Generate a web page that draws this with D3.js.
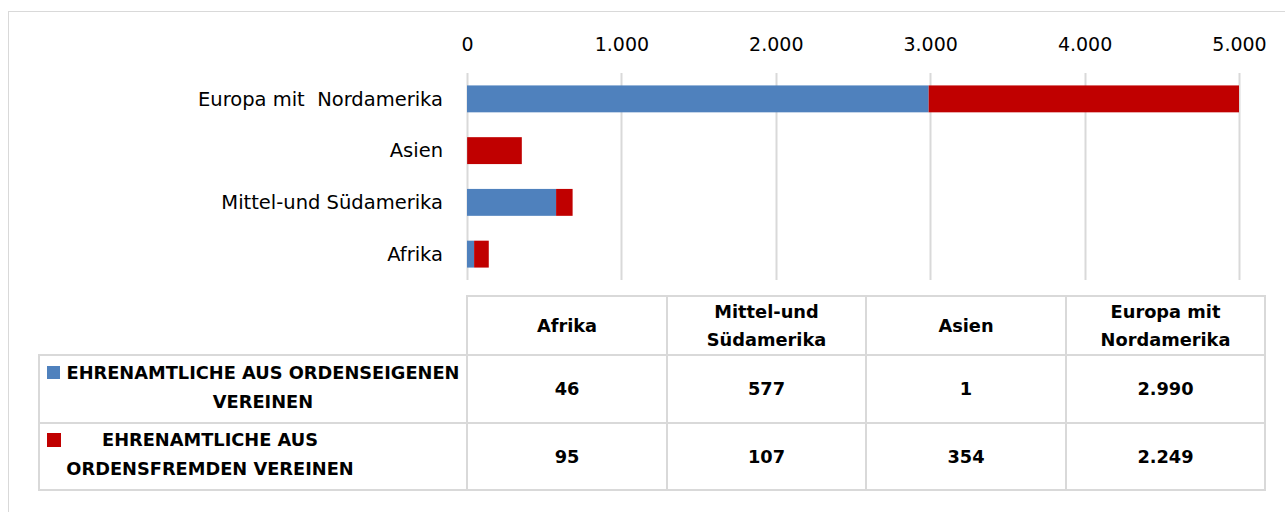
<!DOCTYPE html>
<html>
<head>
<meta charset="utf-8">
<script src="https://cdn.jsdelivr.net/npm/d3@7"></script>
<style>
  body { margin: 0; background: #fff; }
  svg text { font-family: "DejaVu Sans", sans-serif; fill: #000; }
</style>
</head>
<body>
<div id="chart_div"></div>
<script>
// data
var regions = ['Afrika', 'Mittel-und Südamerika', 'Asien', 'Europa mit  Nordamerika'];
var tableHeads = [['Afrika'], ['Mittel-und', 'Südamerika'], ['Asien'], ['Europa mit', 'Nordamerika']];
var ordenseigen = [46, 577, 1, 2990];
var ordensfremd = [95, 107, 354, 2249];
var xTicks = [0, 1000, 2000, 3000, 4000, 5000];
var seriesNames = [['EHRENAMTLICHE AUS ORDENSEIGENEN', 'VEREINEN'], ['EHRENAMTLICHE AUS', 'ORDENSFREMDEN VEREINEN']];
var seriesColors = ['#4f81bd', '#c00000'];

var svg_width = 1285,
  svg_height = 512;

var svg = d3.select('#chart_div')
  .append('svg')
  .attr('width', svg_width)
  .attr('height', svg_height);

// chart border (runs off the right and bottom)
svg.append('rect')
  .attr('x', 8.5)
  .attr('y', 11.5)
  .attr('width', 1290)
  .attr('height', 520)
  .attr('fill', 'none')
  .attr('stroke', '#d9d9d9');

var fmt = d3.format(',.0f');
var deFmt = function (v) { return fmt(v).replace(/,/g, '.'); };

var x = d3.scaleLinear()
  .domain([0, 5000])
  .range([467, 1239])
  .clamp(true);

var y = d3.scaleBand()
  .domain(regions.slice().reverse())
  .range([73, 280])
  .paddingInner(0.48)
  .paddingOuter(0.24);

// gridlines
svg.append('g').selectAll('line')
  .data(xTicks)
  .enter().append('line')
  .attr('x1', function (d) { return Math.round(x(d)) + 0.5; })
  .attr('x2', function (d) { return Math.round(x(d)) + 0.5; })
  .attr('y1', 73)
  .attr('y2', 280)
  .attr('stroke', '#d9d9d9')
  .attr('stroke-width', 2);

// top axis labels
var xAxis = svg.append('g')
  .attr('transform', 'translate(0,57)')
  .call(d3.axisTop(x).tickValues(xTicks).tickSize(0).tickPadding(6).tickFormat(deFmt));
xAxis.select('.domain').remove();
xAxis.selectAll('text')
  .style('font-size', '19px')
  .style('font-family', '"DejaVu Sans", sans-serif');

// stacked bars
var stackData = regions.map(function (r, i) {
  return { region: r, eigen: ordenseigen[i], fremd: ordensfremd[i] };
});
var stack = d3.stack().keys(['eigen', 'fremd'])(stackData);

svg.append('g').selectAll('g')
  .data(stack)
  .enter().append('g')
  .attr('fill', function (d, i) { return seriesColors[i]; })
  .selectAll('rect')
  .data(function (d) { return d; })
  .enter().append('rect')
  .attr('x', function (d) { return x(d[0]); })
  .attr('y', function (d) { return y(d.data.region); })
  .attr('width', function (d) { return Math.max(0, x(d[1]) - x(d[0])); })
  .attr('height', y.bandwidth());

// category labels
svg.append('g').selectAll('text')
  .data(regions)
  .enter().append('text')
  .attr('x', 443)
  .attr('y', function (d) { return y(d) + y.bandwidth() / 2; })
  .attr('dy', '0.35em')
  .attr('text-anchor', 'end')
  .style('font-size', '19.5px')
  .style('white-space', 'pre')
  .text(function (d) { return d; });

// data table under the chart
var colEdges = [467, 667, 866, 1066, 1265];
var rowEdges = [296, 355, 423, 490];
var tableLeft = 39;

var tbl = svg.append('g');
var gridStroke = '#d9d9d9';

function hline(x1, x2, yy) {
  tbl.append('line').attr('x1', x1).attr('x2', x2).attr('y1', yy).attr('y2', yy)
    .attr('stroke', gridStroke).attr('stroke-width', 2);
}
function vline(xx, y1, y2) {
  tbl.append('line').attr('x1', xx).attr('x2', xx).attr('y1', y1).attr('y2', y2)
    .attr('stroke', gridStroke).attr('stroke-width', 2);
}

hline(colEdges[0] - 1, colEdges[4] + 1, rowEdges[0]);
hline(tableLeft - 1, colEdges[4] + 1, rowEdges[1]);
hline(tableLeft - 1, colEdges[4] + 1, rowEdges[2]);
hline(tableLeft - 1, colEdges[4] + 1, rowEdges[3]);
vline(tableLeft, rowEdges[1], rowEdges[3]);
colEdges.forEach(function (cx) {
  vline(cx, rowEdges[0], rowEdges[3]);
});

var tblFont = '17.8px';

// header row
tableHeads.forEach(function (lines, i) {
  var cx = (colEdges[i] + colEdges[i + 1]) / 2;
  var cy = (rowEdges[0] + rowEdges[1]) / 2;
  var t = tbl.append('text')
    .attr('text-anchor', 'middle')
    .style('font-size', tblFont)
    .style('font-weight', 'bold');
  lines.forEach(function (l, j) {
    t.append('tspan')
      .attr('x', cx)
      .attr('y', cy + (j - (lines.length - 1) / 2) * 28)
      .attr('dy', '0.35em')
      .text(l);
  });
});

// value rows
[ordenseigen, ordensfremd].forEach(function (vals, r) {
  var cy = (rowEdges[r + 1] + rowEdges[r + 2]) / 2;
  vals.forEach(function (v, i) {
    tbl.append('text')
      .attr('x', (colEdges[i] + colEdges[i + 1]) / 2)
      .attr('y', cy)
      .attr('dy', '0.35em')
      .attr('text-anchor', 'middle')
      .style('font-size', tblFont)
      .style('font-weight', 'bold')
      .text(deFmt(v));
  });
});

// legend row headers
var legendCenters = [263, 210];
var legendKeyY = [366, 433];
seriesNames.forEach(function (lines, r) {
  var cy = (rowEdges[r + 1] + rowEdges[r + 2]) / 2;
  tbl.append('rect')
    .attr('x', 47)
    .attr('y', legendKeyY[r])
    .attr('width', r === 0 ? 13 : 14)
    .attr('height', r === 0 ? 13 : 14)
    .attr('fill', seriesColors[r]);
  var t = tbl.append('text')
    .attr('text-anchor', 'middle')
    .style('font-size', tblFont)
    .style('font-weight', 'bold');
  lines.forEach(function (l, j) {
    t.append('tspan')
      .attr('x', legendCenters[r])
      .attr('y', cy + (j - 0.5) * 29 - 2)
      .attr('dy', '0.35em')
      .text(l);
  });
});
</script>
</body>
</html>
